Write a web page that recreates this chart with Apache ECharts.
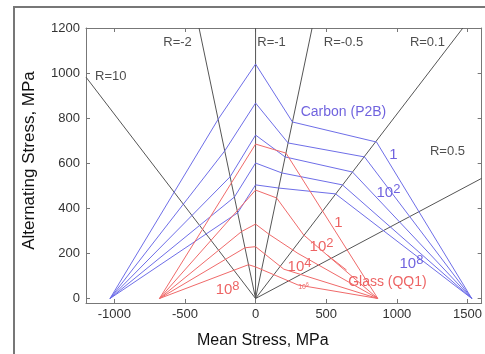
<!DOCTYPE html>
<html>
<head>
<meta charset="utf-8">
<script src="https://cdn.jsdelivr.net/npm/echarts@6/dist/echarts.min.js"></script>
<style>
  html, body { margin: 0; padding: 0; background: #fff; }
  #chart { width: 485px; height: 354px; }
</style>
</head>
<body>
<div id="chart"></div>
<script>
// ticks
const xTicks = [-1000, -500, 0, 500, 1000, 1500];
const yTicks = [0, 200, 400, 600, 800, 1000, 1200];

// constant R lines, from the origin to the edge of the box
const rLines = {
  'R=10':   [[-1200, 982], [0, 0]],
  'R=-2':   [[-400, 1200], [0, 0]],
  'R=-1':   [[0, 1200], [0, 0]],
  'R=-0.5': [[400, 1200], [0, 0]],
  'R=0.1':  [[1467, 1200], [0, 0]],
  'R=0.5':  [[1600, 533], [0, 0]]
};

// Carbon (P2B), cycles 1, 1e2, 1e4, 1e6, 1e8
const carbon1 = [[-1030, 0], [-265, 795], [0, 1040], [261, 783], [856, 694], [1530, 0]];
const carbon2 = [[-1030, 0], [-218, 655], [0, 867], [230, 690], [771, 628], [1530, 0]];
const carbon4 = [[-1030, 0], [-180, 540], [0, 725], [209, 628], [686, 561], [1530, 0]];
const carbon6 = [[-1030, 0], [-150, 450], [0, 601], [186, 557], [615, 504], [1530, 0]];
const carbon8 = [[-1030, 0], [-127, 380], [0, 504], [163, 490], [566, 464], [1530, 0]];

// Glass (QQ1)
const glass1 = [[-680, 0], [0, 685], [215, 645], [865, 0]];
const glass2 = [[-680, 0], [0, 481], [149, 446], [340, 282], [865, 0]];
const glass4 = [[-680, 0], [-99, 297], [0, 330], [95, 285], [300, 200], [865, 0]];
const glass6 = [[-680, 0], [-75, 225], [0, 230], [200, 130], [865, 0]];
const glass8 = [[-680, 0], [-50, 150], [0, 140], [300, 60], [865, 0]];
const glassLeader = [[509, 192], [644, 126]];

// text labels [x, y, text]
const rLabels = [[-1025, 983, 'R=10'], [-552, 1138, 'R=-2'], [113, 1138, 'R=-1'],
                 [622, 1138, 'R=-0.5'], [1216, 1138, 'R=0.1'], [1358, 651, 'R=0.5']];
const blueLabels = [[622, 827, 'Carbon (P2B)'], [976, 637, '{b|1}'], [940, 468, '{b|10}{s|2}'], [1103, 153, '{b|10}{s|8}']];
const redLabels = [[933, 73, 'Glass (QQ1)'], [587, 335, '{b|1}'], [467, 228, '{b|10}{s|2}'],
                   [311, 140, '{b|10}{s|4}'], [339, 51, '{t|10}{ts|6}'], [-198, 38, '{b|10}{s|8}']];

const BLUE = '#6e6ee8';
const RED = '#f06a6a';
const GRAY = '#555';
const FONT = 'Liberation Sans, Arial, sans-serif';

function curve(data, color) {
  return { type: 'line', data: data, symbol: 'none', silent: true,
           lineStyle: { color: color, width: 1 }, xAxisIndex: 0, yAxisIndex: 0 };
}

function labels(list, color, size) {
  return {
    type: 'scatter', symbolSize: 0, silent: true,
    data: list.map(d => ({ value: [d[0], d[1]], name: d[2] })),
    label: {
      show: true, position: 'inside', formatter: p => p.name,
      color: color, fontFamily: FONT, fontSize: size,
      rich: {
        b: { color: color, fontFamily: FONT, fontSize: 15 },
        s: { color: color, fontFamily: FONT, fontSize: 13, verticalAlign: 'top', padding: [0, 0, 8, 0] },
        t: { color: color, fontFamily: FONT, fontSize: 7 },
        ts: { color: color, fontFamily: FONT, fontSize: 5, padding: [0, 0, 4, 0] }
      }
    }
  };
}

const series = [];
Object.keys(rLines).forEach(k => series.push(curve(rLines[k], GRAY)));
[carbon1, carbon2, carbon4, carbon6, carbon8].forEach(c => series.push(curve(c, BLUE)));
[glass1, glass2, glass4, glass6, glass8, glassLeader].forEach(c => series.push(curve(c, RED)));
series.push(labels(rLabels, '#222', 13));
series.push(labels(blueLabels, '#4b3bd6', 14));
series.push(labels(redLabels, '#e83c3c', 14));

const tickStyle = { inside: true, length: 4, lineStyle: { color: '#777' } };

function axis(extra) {
  return Object.assign({
    type: 'value',
    axisLine: { show: true, onZero: false, lineStyle: { color: '#777', width: 1 } },
    splitLine: { show: false }
  }, extra);
}

const chart = echarts.init(document.getElementById('chart'), null, { renderer: 'canvas' });
chart.setOption({
  animation: false,
  backgroundColor: '#fff',
  grid: { left: 86, right: 3, top: 28, bottom: 51 },
  xAxis: [
    axis({
      min: -1200, max: 1600, position: 'bottom',
      name: 'Mean Stress, MPa', nameLocation: 'middle', nameGap: 30,
      nameTextStyle: { fontFamily: FONT, fontSize: 16, color: '#111', padding: [0, 42, 0, 0] },
      axisTick: Object.assign({ customValues: xTicks }, tickStyle),
      axisLabel: { customValues: xTicks, formatter: v => String(v), fontFamily: FONT, fontSize: 13, color: '#333', margin: 5 }
    }),
    axis({
      min: -1200, max: 1600, position: 'top',
      axisTick: Object.assign({ customValues: xTicks }, tickStyle),
      axisLabel: { show: false }
    })
  ],
  yAxis: [
    axis({
      min: -20, max: 1200, position: 'left',
      name: 'Alternating Stress, MPa', nameLocation: 'middle', nameGap: 48,
      nameTextStyle: { fontFamily: FONT, fontSize: 17, color: '#111', padding: [0, 0, 0, 10] },
      axisTick: Object.assign({ customValues: yTicks }, tickStyle),
      axisLabel: { customValues: yTicks, formatter: v => String(v), fontFamily: FONT, fontSize: 13, color: '#333', margin: 6 }
    }),
    axis({
      min: -20, max: 1200, position: 'right',
      axisTick: Object.assign({ customValues: yTicks }, tickStyle),
      axisLabel: { show: false }
    })
  ],
  graphic: [{
    type: 'rect', silent: true,
    shape: { x: 14, y: 7, width: 480, height: 360 },
    style: { fill: 'none', stroke: '#777', lineWidth: 2 }
  }],
  series: series
});
</script>
</body>
</html>
